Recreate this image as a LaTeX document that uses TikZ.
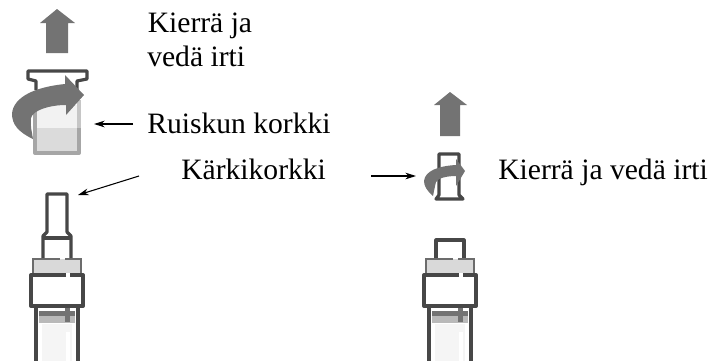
\documentclass[tikz,border=0pt]{standalone}
\usepackage{fontspec}
\setmainfont{Liberation Serif}
\usetikzlibrary{arrows.meta,calc}
\definecolor{darkline}{gray}{0.28}
\definecolor{midgray}{gray}{0.45}
\tikzset{
    x=0.75pt, y=-0.75pt,
    label/.style={anchor=base west, inner sep=0pt, font=\fontsize{22.2pt}{26pt}\selectfont},
    pointer/.style={-{Stealth[length=8pt,width=5pt]}, black, line width=0.8pt},
    outline/.style={draw=darkline, line width=2.4pt, line join=round},
    band/.style={draw=gray!85!black, line width=2.2pt, fill=gray!30},
    turn/.style={fill=midgray, draw=none},
    lift/.style={fill=midgray, draw=none},
}

\begin{document}
\begin{tikzpicture}
    \useasboundingbox (0,0) rectangle (713,361);

    % syringes, the barrel runs off the bottom edge
    \foreach \dx/\name in {0/left,393/right}{
        \begin{scope}[xshift=\dx*0.75pt]
            \fill[gray!8] (42,324) rectangle (72,361);
            \fill[white] (66,332) rectangle (70,361);
            \fill[gray!55] (39,316) rectangle (75,323);
            \fill[midgray] (39,311) rectangle (75,316);
            \fill[midgray] (65,308) rectangle (70,322);
            \draw[outline] (36,306) -- (36,361) (78,306) -- (78,361);
            \fill[gray!30] (33,259) rectangle (81,273);
            \draw[band, fill=none] (33,273) -- (33,259) -- (60,259) (65,259) -- (81,259) -- (81,273);
            \draw[outline, line width=3pt] (66,275) -- (31,275) -- (31,306) -- (83,306) -- (83,275) -- (70,275);
        \end{scope}
    }

    % left syringe tip and right syringe stopper
    \draw[outline] (43,258) -- (43,236) -- (47,232) -- (47,194) -- (67,194) -- (67,232) -- (71,236) -- (71,258);
    \draw[outline] (43,238) -- (71,238);
    \draw[outline] (436,258) -- (436,240) -- (464,240) -- (464,258);

    % big cap
    \fill[gray!10] (37,105) rectangle (78,128);
    \fill[gray!28] (37,128) rectangle (78,152);
    \draw[draw=gray!70, line width=3pt, line join=round] (35,100) -- (35,153) -- (79,153) -- (79,128);
    \draw[draw=gray!45, line width=3pt] (79,128) -- (79,100);
    \draw[outline] (36,90) -- (36,81) -- (28,79) -- (28,71) -- (87,71) -- (87,79) -- (77,81) -- (77,90);
    \path[turn] (33,139) .. controls (18,132) and (12,124) .. (12,114)
        .. controls (13,97) and (35,87) .. (65,84) -- (65,75) -- (84,95) -- (66,115) -- (66,105)
        .. controls (50,105) and (33,110) .. (31,118) .. controls (30,126) and (32,132) .. (33,139) -- cycle;

    % small cap
    \draw[outline] (439,195) -- (439,154) -- (459,154) -- (459,195) -- (463,199) -- (436,199) -- cycle;
    \path[turn] (433,196) .. controls (427,191) and (424,186) .. (424,181)
        .. controls (425,171) and (438,166) .. (456,165) -- (456,159) -- (465,171) -- (456,186) -- (456,176)
        .. controls (447,176) and (438,178) .. (436,182) .. controls (435,186) and (434,191) .. (433,196) -- cycle;

    % pull arrows
    \path[lift] (57,9) -- (75,23) -- (68,23) -- (68,53) -- (46,53) -- (46,23) -- (40,23) -- cycle;
    \path[lift] (450,92) -- (467,105) -- (460,105) -- (460,136) -- (440,136) -- (440,105) -- (434,105) -- cycle;

    \node[label] (kierra) at (147.5,32) {Kierrä ja};
    \node[label] (veda) at (147,66) {vedä irti};
    \node[label] (ruisku) at (147,133) {Ruiskun korkki};
    \node[label] (karki) at (181,179) {Kärkikorkki};
    \node[label] (kierraoik) at (498,179) {Kierrä ja vedä irti};

    \coordinate (capmark) at (94,124);
    \coordinate (capstart) at (133,124);
    \coordinate (tipstart) at (139,176);
    \coordinate (tipmark) at (78,195);
    \coordinate (smallstart) at (371,176);
    \coordinate (smallmark) at (416,176);

    \draw[pointer] (capstart) -- (capmark);
    \draw[pointer] (tipstart) -- (tipmark);
    \draw[pointer] (smallstart) -- (smallmark);
\end{tikzpicture}
\end{document}
